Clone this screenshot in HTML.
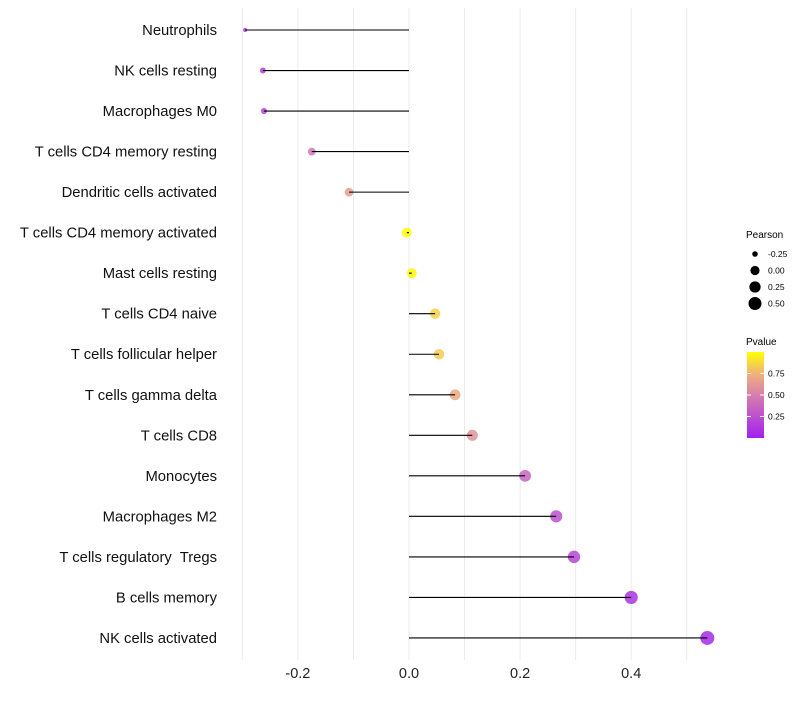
<!DOCTYPE html>
<html><head><meta charset="utf-8"><style>
body{margin:0;background:#fff;}
svg text{font-family:"Liberation Sans",sans-serif;white-space:pre;}
</style></head><body>
<svg id="chart" width="800" height="700">
<defs>
<linearGradient id="pg" x1="0" y1="1" x2="0" y2="0">
<stop offset="0" stop-color="#a020f0"/>
<stop offset="0.5" stop-color="#d77fae"/>
<stop offset="0.75" stop-color="#f0b27a"/>
<stop offset="1" stop-color="#ffff00"/>
</linearGradient>
</defs>
<g id="grid"></g>
<g id="points"></g>
<g id="marks"></g>
<g id="labels"></g>
<g id="xticks"></g>
<g>
<text x="746" y="238" font-size="10">Pearson</text>
<g id="sizeleg"></g>
</g>
<g>
<text x="746" y="345" font-size="10">Pvalue</text>
<rect x="747" y="352" width="17" height="86" fill="url(#pg)"/>
<g id="colleg"></g>
</g>
</svg>
<script>
const categories=["Neutrophils","NK cells resting","Macrophages M0","T cells CD4 memory resting","Dendritic cells activated","T cells CD4 memory activated","Mast cells resting","T cells CD4 naive","T cells follicular helper","T cells gamma delta","T cells CD8","Monocytes","Macrophages M2","T cells regulatory  Tregs","B cells memory","NK cells activated"];
const pearson=[-0.295,-0.263,-0.261,-0.175,-0.108,-0.004,0.005,0.047,0.054,0.083,0.114,0.209,0.265,0.297,0.4,0.537];
const pvalues=[0.1,0.15,0.15,0.45,0.65,1.0,0.98,0.85,0.83,0.7,0.6,0.35,0.25,0.2,0.1,0.05];
const xTicks=[-0.2,0,0.2,0.4];
const xTickLabels=["-0.2","0.0","0.2","0.4"];
const xMinor=[-0.3,-0.1,0.1,0.3,0.5];
const sizeLegVals=[-0.25,0,0.25,0.5];
const sizeLegLabels=["-0.25","0.00","0.25","0.50"];
const colLegVals=[0.25,0.5,0.75];
const colLegLabels=["0.25","0.50","0.75"];

const NS="http://www.w3.org/2000/svg";
const X=v=>409+v*555.5;
const Y=i=>30+i*40.53;
const R=v=>2+5*Math.sqrt(Math.max(0,(v+0.295)/0.832));
const stops=[[0,[160,32,240]],[0.5,[215,127,174]],[0.75,[240,178,122]],[1,[255,255,0]]];
function col(p){p=Math.max(0,Math.min(1,p));for(let k=1;k<stops.length;k++){if(p<=stops[k][0]){const a=stops[k-1],b=stops[k];const t=(p-a[0])/(b[0]-a[0]);const c=a[1].map((x,j)=>Math.round(x+(b[1][j]-x)*t));return `rgb(${c})`;}}return "rgb(255,255,0)";}
function mk(tag,attrs,parent){const e=document.createElementNS(NS,tag);for(const k in attrs)e.setAttribute(k,attrs[k]);parent.appendChild(e);return e;}
const grid=document.getElementById('grid'),marks=document.getElementById('marks'),pts=document.getElementById('points'),labels=document.getElementById('labels'),xt=document.getElementById('xticks');
xMinor.concat(xTicks).forEach(v=>{const l=mk('line',{x1:X(v),x2:X(v),y1:8,y2:660,stroke:'#ebebeb','stroke-width':1},grid);

});
xTicks.forEach((v,i)=>{const t=mk('text',{x:X(v),y:678,'font-size':14.5,'text-anchor':'middle',fill:'#222'},xt);t.textContent=xTickLabels[i];

});
categories.forEach((c,i)=>{
const t=mk('text',{x:217,y:Y(i)+5,'font-size':14.8,'text-anchor':'end',fill:'#111'},labels);t.textContent=c;


const d=mk('circle',{cx:X(pearson[i]),cy:Y(i),r:R(pearson[i]),fill:col(pvalues[i]),'fill-opacity':0.85},pts);


const s=mk('line',{x1:X(0),x2:X(pearson[i]),y1:Y(i),y2:Y(i),stroke:'#000','stroke-width':1.1},marks);


});
const sl=document.getElementById('sizeleg');
sizeLegVals.forEach((v,i)=>{const y=254+i*16.5;
const c=mk('circle',{cx:755,cy:y,r:R(v)-0.4,fill:'#000'},sl);


const t=mk('text',{x:768,y:y+3,'font-size':8.5},sl);t.textContent=sizeLegLabels[i];

});
const cl=document.getElementById('colleg');
colLegVals.forEach((v,i)=>{const y=438-v*86;
const t=mk('text',{x:768,y:y+3,'font-size':8.5},cl);t.textContent=colLegLabels[i];


mk('line',{x1:747,x2:751,y1:y,y2:y,stroke:'#fff'},cl);mk('line',{x1:760,x2:764,y1:y,y2:y,stroke:'#fff'},cl);});
</script>
</body></html>
